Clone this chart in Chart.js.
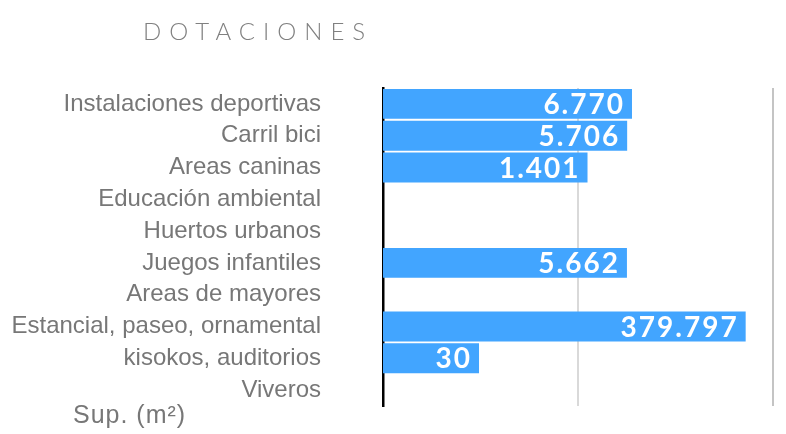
<!DOCTYPE html>
<html><head><meta charset="utf-8">
<script src="https://cdn.jsdelivr.net/npm/chart.js@4/dist/chart.umd.min.js"></script>
<style>html,body{margin:0;padding:0;background:#fff}#wrap{width:786px;height:434px;position:relative}</style>
</head><body><div id="wrap"><canvas id="c" width="786" height="434"></canvas></div>
<script>
const categories = ["Instalaciones deportivas","Carril bici","Areas caninas","Educación ambiental","Huertos urbanos","Juegos infantiles","Areas de mayores","Estancial, paseo, ornamental","kisokos, auditorios","Viveros"];
const superficie = [6770, 5706, 1401, null, null, 5662, null, 379797, 30, null];
const valueLabels = ["6.770","5.706","1.401","","","5.662","","379.797","30",""];
const gridTicks = [1, 1000, 1000000];
const titleText = "DOTACIONES";
const unitText = "Sup. (m²)";

const extras = {
  id: 'extras',
  afterDatasetsDraw(chart) {
    const ctx = chart.ctx;
    const meta = chart.getDatasetMeta(0);
    ctx.save();
    ctx.fillStyle = '#fff';
    ctx.font = 'bold 28px Lato, "Open Sans", sans-serif';
    ctx.letterSpacing = '2px';
    ctx.textAlign = 'right';
    ctx.textBaseline = 'middle';
    meta.data.forEach((bar, i) => {
      if (superficie[i] == null) return;
      ctx.fillText(valueLabels[i], bar.x - 7, bar.y + 1);
    });
    ctx.restore();
  },
  afterDraw(chart) {
    const ctx = chart.ctx;
    ctx.save();
    ctx.fillStyle = '#808080';
    ctx.font = '300 24px Lato, sans-serif';
    ctx.textAlign = 'left';
    ctx.textBaseline = 'alphabetic';
    ctx.letterSpacing = '8px';
    ctx.fillText(titleText, 143, 40);
    ctx.letterSpacing = '1px';
    ctx.fillStyle = '#777';
    ctx.font = '25px "Liberation Sans", Arial, sans-serif';
    ctx.fillText(unitText, 73, 423);
    ctx.restore();
  }
};

new Chart(document.getElementById('c'), {
  type: 'bar',
  data: {
    labels: categories,
    datasets: [{
      data: superficie,
      backgroundColor: 'rgb(66,165,255)',
      borderWidth: 0,
      barPercentage: 0.94,
      categoryPercentage: 1.0
    }]
  },
  options: {
    indexAxis: 'y',
    responsive: false,
    animation: false,
    layout: { padding: { top: 88, bottom: 28, right: 13, left: 0 } },
    plugins: { legend: { display: false }, tooltip: { enabled: false } },
    scales: {
      x: {
        type: 'logarithmic',
        min: 1, max: 1000000,
        afterBuildTicks(scale) { scale.ticks = gridTicks.map(v => ({ value: v })); },
        afterFit(scale) { scale.height = 0; scale.paddingLeft = 0; scale.paddingRight = 0; },
        ticks: { display: false },
        border: { display: false },
        grid: {
          drawTicks: false,
          color: ctx => ctx.tick && ctx.tick.value === 1 ? 'rgba(0,0,0,0)' : (ctx.tick && ctx.tick.value === 1000000 ? '#c4c4c4' : '#d9d9d9'),
          lineWidth: 2
        }
      },
      y: {
        afterFit(scale) { scale.width = 383; scale.paddingTop = 0; scale.paddingBottom = 0; },
        grid: { display: false, drawTicks: false },
        border: { display: true, color: '#000', width: 2.5 },
        ticks: {
          color: '#777',
          padding: 62,
          font: { family: '"Liberation Sans", Arial, sans-serif', size: 24 }
        }
      }
    }
  },
  plugins: [extras]
});
</script></body></html>
